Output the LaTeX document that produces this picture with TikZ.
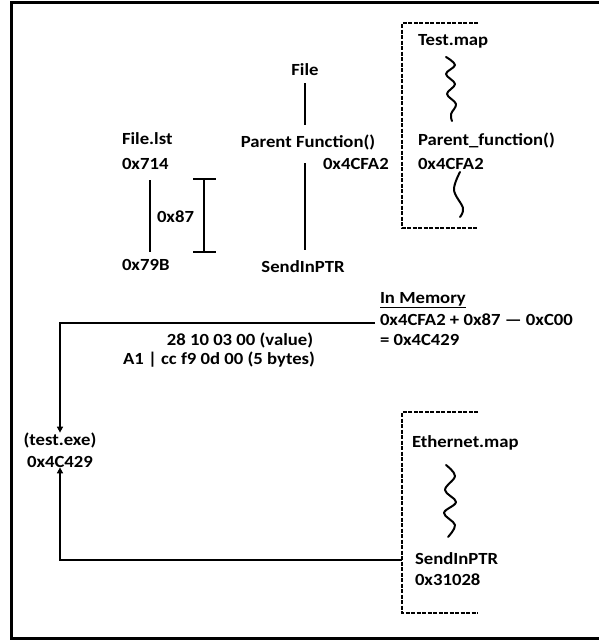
\documentclass[tikz,border=0pt]{standalone}
\usepackage{fontspec}
\setmainfont{Carlito}[FakeStretch=1.1]
\usetikzlibrary{arrows.meta,calc}
\begin{document}
\begin{tikzpicture}[x=1pt,y=-1pt,
  txt/.style={inner sep=0pt,outer sep=0pt,font=\fontsize{17}{20}\selectfont\bfseries},
  lw/.style={line width=2pt},
  thin/.style={line width=1.5pt},
  bracket/.style={line width=2pt,dash pattern=on 4pt off 1.5pt},
  wave/.style={line width=2pt,line join=round,line cap=round},
  arr/.style={-{Triangle[length=6pt,width=6pt]}}]
\useasboundingbox (0,0) rectangle (599,641);
% frame
\draw[line width=3pt] (602,2.5) -- (11.5,2.5) -- (11.5,638.5) -- (602,638.5);
% top middle
\node[txt] (file) at (305,70) {File};
\node[txt] (pf) at (308,142) {Parent Function()};
\node[txt,anchor=mid west] (pfaddr) at (323,167) {0x4CFA2};
\node[txt] (sip) at (303,267) {SendInPTR};
\coordinate (f1) at (305,83);
\coordinate (f2) at (305,125);
\coordinate (f3) at (305,163);
\coordinate (f4) at (305,250);
\draw[lw] (f1) -- (f2);
\draw[thin] (f3) -- (f4);
% left
\node[txt,anchor=mid west] (flst) at (122,142) {File.lst};
\node[txt,anchor=mid west] (a714) at (122,167) {0x714};
\node[txt,anchor=mid west] (a79b) at (122,268) {0x79B};
\node[txt,anchor=mid west] (d87) at (157,220) {0x87};
\coordinate (l1) at (150,180);
\coordinate (l2) at (150,252);
\draw[lw] (l1) -- (l2);
\coordinate (i1) at (204,179);
\coordinate (i2) at (204,252);
\draw[lw] (i1) -- (i2);
\draw[lw] ($(i1)+(-11,0)$) -- ($(i1)+(12,0)$);
\draw[lw] ($(i2)+(-11,0)$) -- ($(i2)+(12,0)$);
% Test.map
\draw[bracket] (478,23) -- (402,23) -- (402,228) -- (478,228);
\node[txt,anchor=mid west] (tmap) at (418,43) {Test.map};
\node[txt,anchor=mid west] (pfn) at (418,143) {Parent\_function()};
\node[txt,anchor=mid west] (pfnaddr) at (418,167) {0x4CFA2};
\draw[wave] plot[smooth,tension=0.6] coordinates {(446,57) (455,65) (446,74) (455,84) (447,94) (456,104) (451,114) (452,121)};
\draw[wave] plot[smooth,tension=0.6] coordinates {(460,172) (454,190) (463,208) (460,217)};
% In memory
\node[txt,anchor=mid west] (inmem) at (380,301) {\underline{In Memory}};
\node[txt,anchor=mid west] (calc) at (380,323) {0x4CFA2 + 0x87 — 0xC00};
\node[txt,anchor=mid west] (res) at (380,343) {= 0x4C429};
\node[txt] (val) at (240,340) {28 10 03 00 (value)};
\node[txt] (bytes) at (219,360) {A1 | cc f9 0d 00 (5 bytes)};
\node[txt,align=center] (exe) at (60,450) {(test.exe)\\[2pt]0x4C429};
\coordinate (c1) at (375,323);
\draw[lw,arr] (c1) -| (exe.north);
% Ethernet.map
\draw[bracket] (478,412) -- (402,412) -- (402,613) -- (478,613);
\node[txt,anchor=mid west] (emap) at (412,445) {Ethernet.map};
\draw[wave] plot[smooth,tension=0.6] coordinates {(446,465) (455,476) (445,490) (456,502) (444,513) (455,525) (448,537)};
\node[txt,anchor=mid west] (esip) at (415,562) {SendInPTR};
\node[txt,anchor=mid west] (eaddr) at (415,583) {0x31028};
\coordinate (c2) at (402,560);
\draw[thin,arr] (c2) -| (exe.south);
\end{tikzpicture}
\end{document}
